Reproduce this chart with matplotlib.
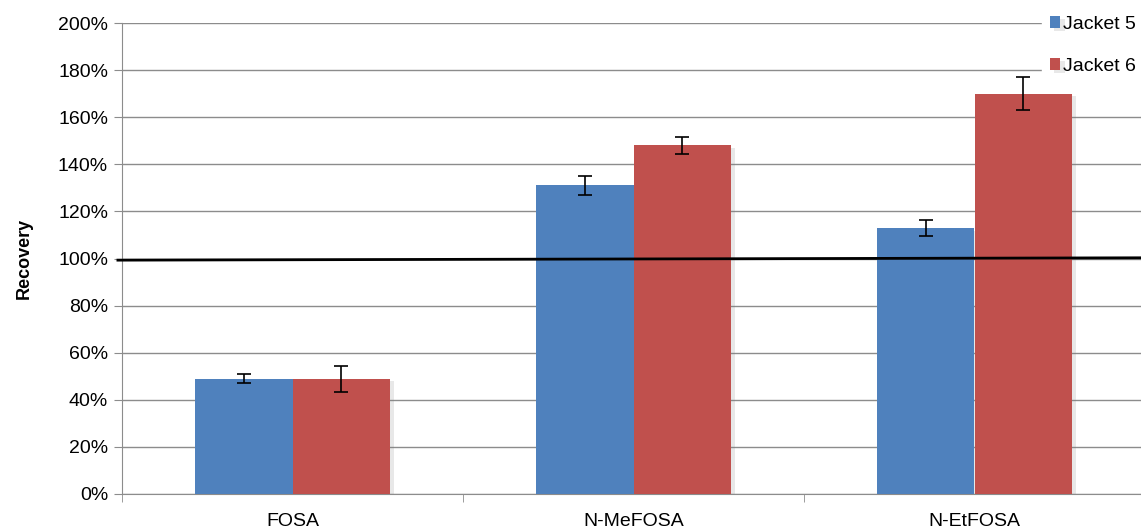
# Recovery of FOSA compounds from jackets

import numpy as np
import matplotlib.pyplot as plt
import matplotlib.patheffects as pe
from matplotlib.ticker import FuncFormatter

plt.rcParams['font.family'] = ['Liberation Sans', 'DejaVu Sans']

categories = ["FOSA", "N-MeFOSA", "N-EtFOSA"]
series = ["Jacket 5", "Jacket 6"]
jacket5 = [49, 131, 113]
jacket5_err = [2, 4, 3.5]
jacket6 = [49, 148, 170]
jacket6_err = [5.5, 3.5, 7]
yticks = [0, 20, 40, 60, 80, 100, 120, 140, 160, 180, 200]

blue = "#4F81BD"
red = "#C0504D"
grid_c = "#8C8C8C"

fig = plt.figure(figsize=(11.41, 5.30), dpi=100)
ax = fig.add_axes([122 / 1141, 36 / 530, 1023 / 1141, 471 / 530])

x = np.arange(len(categories))
w = 0.285
shadow = [pe.SimplePatchShadow(offset=(3, -2), alpha=0.18, shadow_rgbFace="gray"), pe.Normal()]

b1 = ax.bar(x - w / 2, jacket5, w, color=blue, label=series[0], zorder=3)
b2 = ax.bar(x + w / 2, jacket6, w, color=red, label=series[1], zorder=3)
for b in list(b1) + list(b2):
    b.set_path_effects(shadow)

ax.errorbar(x - w / 2, jacket5, yerr=jacket5_err, fmt="none", ecolor="black",
            elinewidth=1.2, capsize=5, capthick=1.2, zorder=4)
ax.errorbar(x + w / 2, jacket6, yerr=jacket6_err, fmt="none", ecolor="black",
            elinewidth=1.2, capsize=5, capthick=1.2, zorder=4)

# 100% reference line (drawn slightly tilted like the original)
ax.plot([-0.512, 2.5], [99.3, 100.3], color="black", lw=2, zorder=5, clip_on=False)

ax.set_xlim(-0.5, 2.5)
ax.set_ylim(0, 200)
ax.set_yticks(yticks)
ax.yaxis.set_major_formatter(FuncFormatter(lambda v, p: f"{v:.0f}%"))
ax.set_xticks(x)
ax.set_xticklabels(categories)
ax.set_xticks([-0.5, 0.5, 1.5, 2.5], minor=True)

ax.grid(axis="y", color=grid_c, lw=1, zorder=0)
for s in ["top", "right"]:
    ax.spines[s].set_visible(False)
for s in ["left", "bottom"]:
    ax.spines[s].set_color(grid_c)
ax.tick_params(axis="y", which="major", length=6, color=grid_c, labelsize=14, pad=4)
ax.tick_params(axis="x", which="major", length=0, labelsize=14, pad=14)
ax.tick_params(axis="x", which="minor", length=6, color=grid_c)

ax.set_ylabel("Recovery", fontsize=13, fontweight="bold", labelpad=18)

leg = fig.legend(handles=[b1, b2], labels=series, loc="upper left",
                 bbox_to_anchor=(1042 / 1141, 1 - 8 / 530), frameon=True,
                 fontsize=14, handlelength=0.55, handleheight=0.55,
                 handletextpad=0.15, labelspacing=1.3, borderpad=0.4,
                 borderaxespad=0)
leg.get_frame().set_facecolor("white")
leg.get_frame().set_edgecolor("white")
leg.get_frame().set_alpha(1)

fig.savefig("out.png", dpi=100)
